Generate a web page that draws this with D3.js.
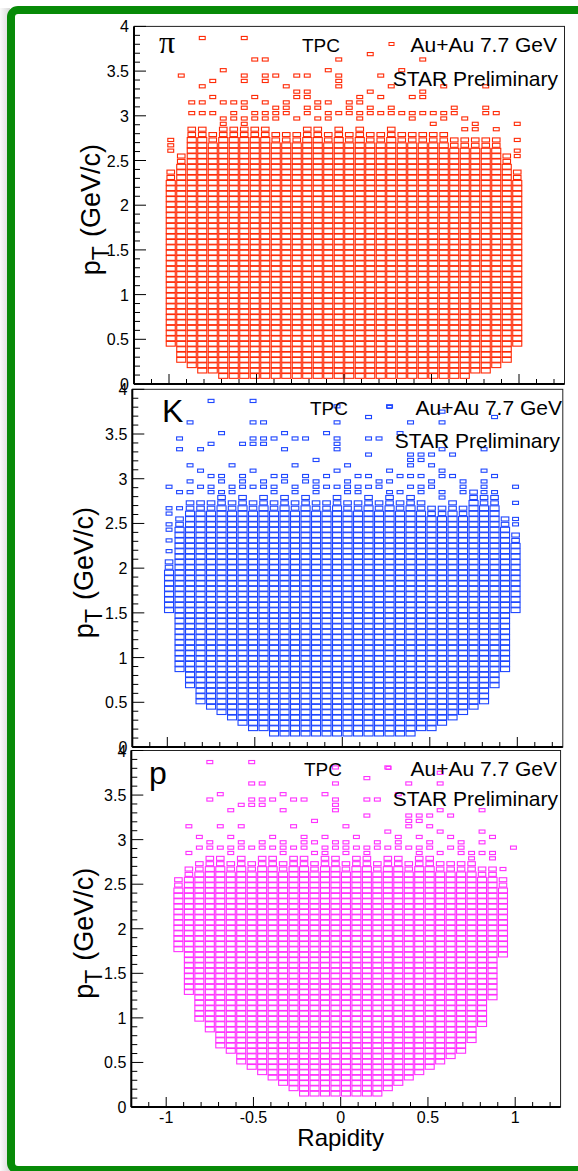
<!DOCTYPE html>
<html><head><meta charset="utf-8">
<script src="https://cdn.jsdelivr.net/npm/d3@7"></script>
<style>
html,body{margin:0;padding:0;background:#fff;}
svg{display:block;}
text{font-family:"Liberation Sans",Arial,Helvetica,sans-serif;fill:#000;}
</style></head><body>
<svg id="chart" width="578" height="1171"></svg>
<script>
// Histogram binning: 40 rapidity bins from -1.2, pT bins of 0.06 GeV/c
const rapidityMin = -1.2;
const rapidityBinWidth = 0.06;
const rapidityBins = 40;
const ptBinWidth = 0.06;

const yTickValues = [0, 0.5, 1, 1.5, 2, 2.5, 3, 3.5, 4];
const yTickLabels = ["0", "0.5", "1", "1.5", "2", "2.5", "3", "3.5", "4"];
const xTickValues = [-1, -0.5, 0, 0.5, 1];
const xTickLabels = ["-1", "-0.5", "0", "0.5", "1"];

const speciesNames = ["π", "K", "p"];

// Per rapidity bin: lowest filled pT bin, top of the filled block, isolated bins above
const piLow = [null, null, null, 7, 4, 3, 2, 2,
  1, 1, 1, 1, 1, 1, 1, 1, 1, 1, 1, 1, 1, 1, 1, 1, 1, 1, 1, 1, 1, 1, 1, 1,
  2, 2, 3, 4, 7, null, null, null];
const piHigh = [null, null, null, 39, 42, 47, 47, 46,
  47, 47, 47, 47, 47, 46, 46, 46, 47, 47, 46, 47, 46, 47, 46, 46, 47, 46, 46, 46, 46, 46, 45, 45,
  45, 45, 45, 42, 39, null, null, null];
const piSparse = [[], [], [], [43, 44, 45], [57], [52, 50], [64, 55, 52, 50], [56, 53, 50],
  [58, 52, 49, 48], [52, 50, 49], [64, 57, 56, 52, 51, 49, 48], [60, 53, 50, 49], [60, 57, 56, 52, 50, 49], [57, 51, 50, 49], [55, 52, 51, 50], [57, 54, 53, 49],
  [57, 54, 53, 51, 50], [52, 51, 49], [58, 52, 50, 49], [60, 57, 56, 55, 50], [52, 51, 50], [53, 52, 50, 49], [61, 54, 51, 50], [57, 53, 50],
  [55, 51, 50], [58, 50], [53, 50, 49], [60, 54, 53, 50], [50, 48], [55, 50, 49], [51, 50], [49, 47],
  [48, 47], [55, 51, 50], [50, 47], [], [48, 45, 43, 42], [], [], []];

const kLow = [null, null, null, 25, 14, 11, 8, 7,
  6, 5, 4, 3, 3, 2, 2, 2, 2, 2, 2, 2, 2, 2, 2, 2, 2, 2, 2, 3, 3, 4, 5, 6,
  7, 8, 11, 14, 25, null, null, null];
const kHigh = [null, null, null, 34, 42, 45, 45, 45,
  46, 45, 46, 45, 46, 45, 46, 45, 46, 45, 45, 46, 45, 45, 46, 45, 46, 45, 46, 45, 44, 44, 45, 44,
  47, 46, 46, 42, 39, null, null, null];
const kSparse = [[], [], [], [36, 38, 40, 41, 43, 44, 48], [57, 55, 47, 44], [60, 52, 49, 47], [55, 51, 48], [64, 56, 50, 48, 47],
  [58, 50, 49, 47], [52, 48, 47], [56, 50, 49, 48], [64, 60, 57, 56, 51, 48], [60, 57, 56, 49, 48], [57, 50, 48, 47], [58, 55, 50, 49], [57, 52, 48, 47],
  [57, 50, 49], [53, 49, 48, 47], [58, 50, 48], [63, 60, 57, 56, 55, 51, 48], [52, 49, 48, 47], [50, 48, 47], [61, 57, 54, 50, 48], [57, 49, 48],
  [63, 51, 49, 47], [58, 50, 47], [60, 54, 53, 52, 50, 48], [54, 53, 50, 48, 47], [54, 52, 49, 48], [62, 60, 55, 51, 50, 47, 46], [54, 50], [49, 48, 47],
  [], [55, 51, 49, 48, 47], [61, 50, 47], [], [48, 45, 42, 41], [], [], []];

const pLow = [null, null, null, null, 29, 21, 16, 14,
  11, 10, 8, 7, 6, 5, 4, 3, 2, 2, 2, 2, 2, 2, 2, 2, 3, 4, 5, 6, 7, 8, 9, 10,
  12, 15, 20, 28, null, null, null, null];
const pHigh = [null, null, null, null, 42, 44, 45, 46,
  46, 45, 46, 45, 46, 46, 45, 46, 46, 45, 46, 46, 45, 46, 46, 45, 46, 46, 45, 46, 46, 45, 45, 45,
  45, 44, 44, 42, null, null, null, null];
const pSparse = [[], [], [], [], [], [52, 47], [50, 48], [64, 57, 49, 48],
  [58, 52, 48], [55, 50, 48, 47], [56, 52, 49, 48], [64, 60, 57, 56, 48], [60, 57, 56, 49, 48], [57, 50, 48], [58, 55, 49, 48, 47], [57, 52, 48],
  [57, 50, 49, 48], [53, 49, 47], [58, 50, 48, 47], [63, 60, 57, 56, 55, 49, 48], [52, 49, 48, 47], [50, 48], [61, 57, 54, 48, 47], [57, 49, 48],
  [63, 51, 48], [58, 50, 49, 48], [60, 54, 53, 52, 48], [54, 53, 50, 48, 47], [54, 52, 49, 48], [62, 60, 55, 51, 47], [54, 50, 48], [49, 48, 47],
  [47, 46], [55, 51, 49, 47], [50, 47, 46], [44], [48], [], [], []];

const speciesLow = [piLow, kLow, pLow];
const speciesHigh = [piHigh, kHigh, pHigh];
const speciesSparse = [piSparse, kSparse, pSparse];

// Layout of the three stacked pads
const pads = [
  { left: 134.0, unit: 175.0, zeroY: 384.0, fourY: 26.4, color: "#ff2a06", nameFont: "Liberation Serif", nameSize: 32, nameX: 159, nameY: 53,
    titleX: 100, tpcX: 302, tpcY: 52, legX: 389, legY: 52, legRight: 557, starY: 86, starRight: 558 },
  { left: 132.3, unit: 175.0, zeroY: 747.0, fourY: 389.3, color: "#1e46ff", nameFont: "Liberation Sans", nameSize: 32, nameX: 162, nameY: 422,
    titleX: 93, tpcX: 310, tpcY: 415, legX: 387, legY: 415, legRight: 562, starY: 448, starRight: 560 },
  { left: 131.3, unit: 174.5, zeroY: 1107.0, fourY: 750.5, color: "#ff30ff", nameFont: "Liberation Sans", nameSize: 32, nameX: 149, nameY: 784,
    titleX: 93, tpcX: 304, tpcY: 776, legX: 386, legY: 776, legRight: 557, starY: 806, starRight: 558 }
];

const svg = d3.select("#chart");

// outer frame with a soft shadow on the left
const defs = svg.append("defs");
const grad = defs.append("linearGradient").attr("id", "shade").attr("x1", 0).attr("x2", 1);
grad.append("stop").attr("offset", 0).attr("stop-color", "#fafafa");
grad.append("stop").attr("offset", 1).attr("stop-color", "#d8d8d8");
svg.append("rect").attr("x", 0).attr("y", 8).attr("width", 10).attr("height", 1170)
  .attr("fill", "url(#shade)");
svg.append("rect").attr("x", 11).attr("y", 10).attr("width", 640).attr("height", 1160)
  .attr("rx", 7).attr("fill", "#fff").attr("stroke", "#078a07").attr("stroke-width", 8);

pads.forEach((pad, s) => {
  const x = d3.scaleLinear().domain([rapidityMin, 1.26])
    .range([pad.left, pad.left + 2.46 * pad.unit]);
  const y = d3.scaleLinear().domain([0, 4]).range([pad.zeroY, pad.fourY]);
  const g = svg.append("g");
  const [x0, x1] = x.range();
  const [y0, y1] = y.range();

  // frame
  g.append("rect").attr("x", x0).attr("y", y1).attr("width", x1 - x0).attr("height", y0 - y1)
    .attr("fill", "#fff").attr("stroke", "#222").attr("stroke-width", 1);

  // cells: block interior at full size, upper rows and isolated bins smaller
  const cells = [];
  const low = speciesLow[s], high = speciesHigh[s], sparse = speciesSparse[s];
  for (let i = 0; i < rapidityBins; i++) {
    if (low[i] !== null) {
      for (let j = low[i]; j <= high[i]; j++) cells.push({ i, j, size: high[i] - j < 2 ? 0.72 : 0.86 });
    }
    sparse[i].forEach(j => cells.push({ i, j, size: 0.56 }));
  }
  g.append("g").selectAll("rect").data(cells).join("rect")
    .each(function (d) {
      const xa = x(rapidityMin + d.i * rapidityBinWidth);
      const xb = x(rapidityMin + (d.i + 1) * rapidityBinWidth);
      const ya = y((d.j + 1) * ptBinWidth);
      const yb = y(d.j * ptBinWidth);
      const w = (xb - xa) * d.size, h = (yb - ya) * (d.size + 0.03);
      d3.select(this)
        .attr("x", (xa + xb) / 2 - w / 2).attr("y", (ya + yb) / 2 - h / 2)
        .attr("width", w).attr("height", h);
    })
    .attr("fill", "none").attr("stroke", pad.color).attr("stroke-width", 1.1);

  // y axis (ticks inside)
  const yMinor = d3.range(0, 4.001, 0.1);
  g.append("g").selectAll("line").data(yMinor).join("line")
    .attr("x1", x0).attr("x2", (d, k) => x0 + (k % 5 === 0 ? 12 : 6))
    .attr("y1", d => y(d)).attr("y2", d => y(d))
    .attr("stroke", "#000").attr("stroke-width", 1);
  g.append("line").attr("x1", x0).attr("x2", x0).attr("y1", y0).attr("y2", y1)
    .attr("stroke", "#000").attr("stroke-width", 2);
  g.append("g").selectAll("text").data(yTickValues).join("text")
    .attr("x", x0 - 5).attr("y", d => y(d) + 6)
    .attr("text-anchor", "end").attr("font-size", 16)
    .text((d, k) => yTickLabels[k]);

  // x axis (ticks inside)
  const xMinor = d3.range(-1.1, 1.26, 0.1).map(v => Math.round(v * 10) / 10);
  g.append("g").selectAll("line").data(xMinor).join("line")
    .attr("x1", d => x(d)).attr("x2", d => x(d))
    .attr("y1", y0).attr("y2", d => y0 - (Math.abs(d * 2 - Math.round(d * 2)) < 1e-6 ? 10 : 5))
    .attr("stroke", "#000").attr("stroke-width", 1);
  g.append("line").attr("x1", x0).attr("x2", x1).attr("y1", y0).attr("y2", y0)
    .attr("stroke", "#000").attr("stroke-width", 2);

  if (s === pads.length - 1) {
    g.append("g").selectAll("text").data(xTickValues).join("text")
      .attr("x", d => x(d)).attr("y", y0 + 16)
      .attr("text-anchor", "middle").attr("font-size", 16)
      .text((d, k) => xTickLabels[k]);
    g.append("text").attr("x", x(0)).attr("y", y0 + 39)
      .attr("text-anchor", "middle").attr("font-size", 24).text("Rapidity");
  }

  // y title, read bottom to top
  const yt = g.append("text")
    .attr("transform", `translate(${pad.titleX},${(y0 + y1) / 2 + 70}) rotate(-90)`)
    .attr("font-size", 27);
  yt.append("tspan").text("p");
  yt.append("tspan").attr("dy", 9).attr("font-size", 23).text("T");
  yt.append("tspan").attr("dx", 9).attr("dy", -9).text("(GeV/c)");

  // labels
  g.append("text").attr("x", pad.nameX).attr("y", pad.nameY)
    .attr("font-size", pad.nameSize).style("font-family", pad.nameFont).text(speciesNames[s]);
  g.append("text").attr("x", pad.tpcX).attr("y", pad.tpcY).attr("font-size", 19).text("TPC");
  g.append("rect").attr("x", pad.legX).attr("y", pad.legY - 9.5).attr("width", 5).attr("height", 3)
    .attr("fill", "none").attr("stroke", pad.color).attr("stroke-width", 1);
  g.append("text").attr("x", pad.legRight).attr("y", pad.legY).attr("text-anchor", "end")
    .attr("font-size", 21).text("Au+Au 7.7 GeV");
  g.append("text").attr("x", pad.starRight).attr("y", pad.starY).attr("text-anchor", "end")
    .attr("font-size", 21).text("STAR Preliminary");
});
</script>
</body></html>
